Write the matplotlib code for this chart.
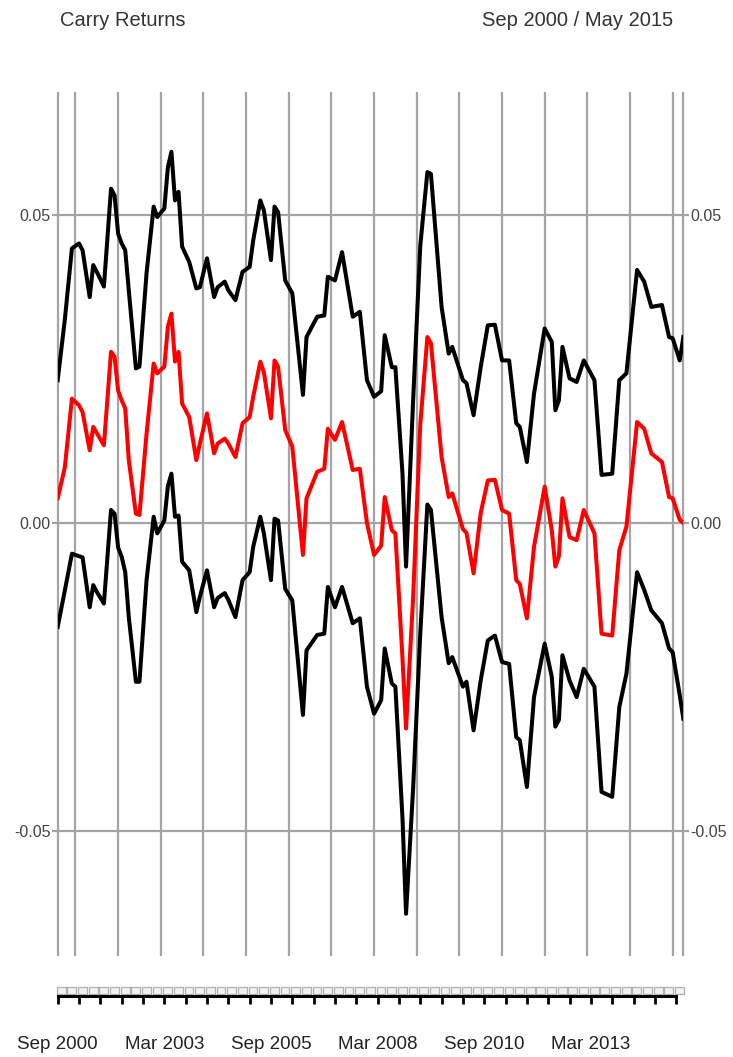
import numpy as np
import matplotlib
matplotlib.use("Agg")
import matplotlib.pyplot as plt
from matplotlib.patches import Rectangle

plt.rcParams['font.family'] = ['Liberation Sans', 'DejaVu Sans']

title_left = "Carry Returns"
title_right = "Sep 2000 / May 2015"

# months since Sep 2000
month_offset = [0, 2, 4, 6, 7, 9, 10, 11, 13, 15, 16, 17, 18, 19, 20, 22, 23, 25, 27, 28,
                30, 31, 32, 33, 34, 35, 37, 39, 40, 42, 44, 45, 47, 48, 50, 52, 54, 55, 57, 58,
                60, 61, 62, 64, 66, 69, 70, 73, 75, 76, 78, 80, 83, 85, 87, 89, 91, 92, 94, 95,
                97, 98, 100, 102, 104, 105, 108, 110, 111, 114, 115, 117, 119, 121, 123, 125, 127, 129, 130, 132,
                134, 137, 139, 140, 141, 142, 144, 146, 148, 151, 153, 156, 158, 160, 163, 165, 167, 170, 172, 173,
                175, 176]

upper_band = [0.0232, 0.0330, 0.0446, 0.0454, 0.0443, 0.0367, 0.0419, 0.0408, 0.0384, 0.0543,
              0.0532, 0.0470, 0.0454, 0.0443, 0.0378, 0.0251, 0.0254, 0.0406, 0.0514, 0.0497,
              0.0511, 0.0578, 0.0603, 0.0524, 0.0538, 0.0449, 0.0424, 0.0381, 0.0383, 0.0430,
              0.0367, 0.0383, 0.0392, 0.0378, 0.0362, 0.0408, 0.0416, 0.0459, 0.0524, 0.0508,
              0.0427, 0.0514, 0.0505, 0.0394, 0.0373, 0.0208, 0.0302, 0.0335, 0.0337, 0.0400,
              0.0394, 0.0440, 0.0335, 0.0343, 0.0232, 0.0205, 0.0214, 0.0305, 0.0253, 0.0253,
              0.0080, -0.0071, 0.0200, 0.0450, 0.0570, 0.0567, 0.0351, 0.0275, 0.0286, 0.0232,
              0.0227, 0.0175, 0.0253, 0.0321, 0.0322, 0.0264, 0.0264, 0.0162, 0.0156, 0.0099,
              0.0210, 0.0316, 0.0294, 0.0183, 0.0199, 0.0286, 0.0235, 0.0229, 0.0264, 0.0232,
              0.0078, 0.0080, 0.0232, 0.0243, 0.0411, 0.0392, 0.0351, 0.0354, 0.0302, 0.0300,
              0.0264, 0.0302]

mean_return = [0.0040, 0.0090, 0.0202, 0.0191, 0.0180, 0.0118, 0.0156, 0.0146, 0.0126, 0.0278,
               0.0270, 0.0215, 0.0199, 0.0186, 0.0102, 0.0015, 0.0013, 0.0145, 0.0259, 0.0243,
               0.0254, 0.0319, 0.0340, 0.0262, 0.0278, 0.0194, 0.0172, 0.0102, 0.0129, 0.0178,
               0.0113, 0.0129, 0.0137, 0.0129, 0.0107, 0.0162, 0.0172, 0.0205, 0.0262, 0.0245,
               0.0170, 0.0264, 0.0254, 0.0151, 0.0124, -0.0052, 0.0040, 0.0083, 0.0088, 0.0153,
               0.0135, 0.0164, 0.0086, 0.0088, 0.0000, -0.0052, -0.0037, 0.0042, -0.0012, -0.0017,
               -0.0220, -0.0334, -0.0120, 0.0160, 0.0302, 0.0292, 0.0107, 0.0042, 0.0048, -0.0010,
               -0.0016, -0.0082, 0.0016, 0.0069, 0.0070, 0.0021, 0.0015, -0.0093, -0.0099, -0.0155,
               -0.0039, 0.0059, -0.0012, -0.0071, -0.0054, 0.0040, -0.0023, -0.0028, 0.0021, -0.0017,
               -0.0180, -0.0183, -0.0044, -0.0006, 0.0164, 0.0153, 0.0113, 0.0099, 0.0042, 0.0040,
               0.0005, 0.0000]

lower_band = [-0.0169, -0.0110, -0.0050, -0.0054, -0.0056, -0.0137, -0.0101, -0.0112, -0.0131, 0.0021,
              0.0015, -0.0040, -0.0055, -0.0080, -0.0153, -0.0258, -0.0258, -0.0093, 0.0010, -0.0017,
              0.0004, 0.0060, 0.0080, 0.0010, 0.0012, -0.0063, -0.0077, -0.0145, -0.0120, -0.0077,
              -0.0137, -0.0122, -0.0114, -0.0125, -0.0153, -0.0093, -0.0080, -0.0039, 0.0010, -0.0017,
              -0.0093, 0.0007, 0.0004, -0.0107, -0.0126, -0.0312, -0.0207, -0.0182, -0.0180, -0.0104,
              -0.0137, -0.0104, -0.0163, -0.0155, -0.0266, -0.0310, -0.0288, -0.0204, -0.0261, -0.0266,
              -0.0480, -0.0635, -0.0430, -0.0180, 0.0030, 0.0021, -0.0153, -0.0228, -0.0218, -0.0266,
              -0.0258, -0.0337, -0.0256, -0.0191, -0.0183, -0.0226, -0.0229, -0.0348, -0.0353, -0.0429,
              -0.0283, -0.0196, -0.0250, -0.0331, -0.0320, -0.0215, -0.0256, -0.0283, -0.0237, -0.0266,
              -0.0437, -0.0445, -0.0299, -0.0245, -0.0080, -0.0109, -0.0142, -0.0163, -0.0204, -0.0210,
              -0.0280, -0.0318]

date_labels = ["Sep 2000", "Mar 2003", "Sep 2005", "Mar 2008", "Sep 2010", "Mar 2013"]
date_label_months = [0, 30, 60, 90, 120, 150]
n_months = 176
y_ticks = [-0.05, 0.0, 0.05]
y_tick_labels = ["-0.05", "0.00", "0.05"]

W, H = 733, 1057
fig = plt.figure(figsize=(W / 100, H / 100), dpi=100)

GRID = '#a4a4a4'
x0, x1 = 57.7, 683.3
ax = fig.add_axes([x0 / W, 1 - 955 / H, (x1 - x0) / W, (955 - 92.7) / H])
ax.set_xlim(0, n_months)
ax.set_ylim(-0.0702, 0.0699)
for s in ax.spines.values():
    s.set_visible(False)

vgrid = [0] + list(range(5, n_months, 12)) + [n_months]
for v in vgrid:
    ax.axvline(v, color=GRID, lw=1.6, zorder=1, clip_on=False)
for yv in y_ticks:
    ax.axhline(yv, color=GRID, lw=1.6, zorder=1)

ax.set_xticks([])
ax.set_yticks(y_ticks, y_tick_labels)
ax.tick_params(axis='y', left=True, right=True, labelleft=True, labelright=True,
               length=4, width=1.6, color=GRID, labelsize=11.5, labelcolor='#444444', pad=1)

ax.plot(month_offset, upper_band, color='black', lw=2.9, zorder=3, solid_joinstyle='round')
ax.plot(month_offset, lower_band, color='black', lw=2.9, zorder=3, solid_joinstyle='round')
ax.plot(month_offset, mean_return, color='#ff0000', lw=2.9, zorder=4, solid_joinstyle='round')

fig.text(60 / W, 1 - 20 / H, title_left, ha='left', va='center', size=14.5, color='#333333')
fig.text(673 / W, 1 - 20 / H, title_right, ha='right', va='center', size=14.5, color='#333333')

# bottom strip with boxes and time axis
sax = fig.add_axes([x0 / W, 1 - 996 / H, (x1 - x0) / W, 11 / H])
sax.set_xlim(0, n_months)
sax.set_ylim(0, 1)
sax.patch.set_alpha(0)
for k in ['top', 'left', 'right']:
    sax.spines[k].set_visible(False)
sax.spines['bottom'].set_bounds(0, 174)
sax.spines['bottom'].set_linewidth(2.2)
sax.set_yticks([])
for i in range(59):
    sax.add_patch(Rectangle((-0.6 + 3 * i + 0.3, 0.18), 2.5, 0.64, facecolor='#f2f2f2',
                            edgecolor='#b0b0b0', lw=0.9, clip_on=False))
tick_pos = list(range(0, 175, 6))
tick_lab = [date_labels[date_label_months.index(t)] if t in date_label_months else '' for t in tick_pos]
sax.set_xticks(tick_pos, tick_lab)
sax.tick_params(axis='x', direction='out', length=6, width=2.0, color='black',
                labelsize=13.5, labelcolor='#222222', pad=23)

fig.savefig('out.png', dpi=100)
